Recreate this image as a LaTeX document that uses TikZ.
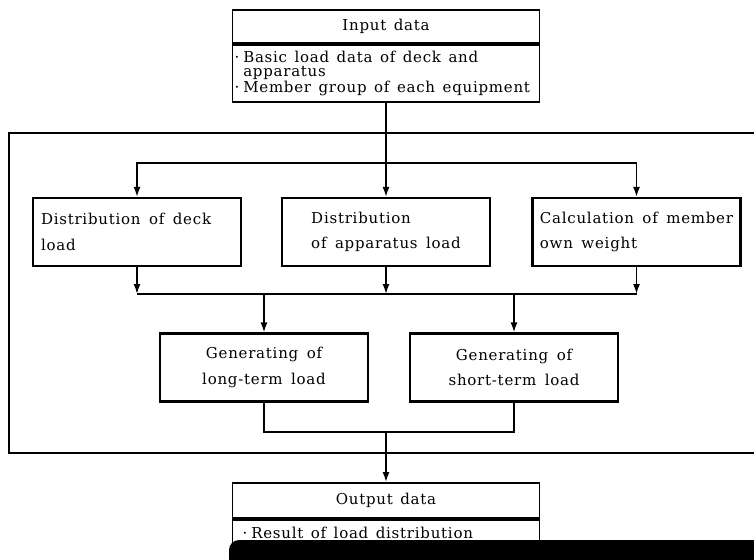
\documentclass[tikz,border=0pt]{standalone}
\usepackage{fontspec}
\setmainfont{DejaVu Serif}[LetterSpace=5]
\usetikzlibrary{arrows.meta,calc,positioning}
\newcommand\widespc{\spaceskip=8.5pt plus 2pt minus 1pt\relax}
\newcommand\iospc{\spaceskip=7.5pt plus 1pt minus 1pt\relax}
\newcommand\bul{·\hspace{4pt}}

\begin{document}
\begin{tikzpicture}[x=1pt,y=-1pt,line width=1.6pt,
  box/.style={draw,line width=2.2pt,minimum width=208pt,minimum height=68pt,align=left,font=\fontsize{15}{25.5}\selectfont,execute at begin node=\widespc},
  gen/.style={box,align=center},
  io/.style={draw,line width=1.8pt,minimum width=307pt,font=\fontsize{15}{14.5}\selectfont,execute at begin node=\iospc},
  arr/.style={-{Latex[length=10pt,width=7pt]}}]
\useasboundingbox (0,0) rectangle (754,559);
%the frame
\draw (754,133) -- (9,133) -- (9,453) -- (754,453);
%input data
\node[io,minimum height=33pt] (INHEAD) at (386,26.5) {Input data};
\node[io,minimum height=57pt,anchor=north,text width=303pt,inner xsep=2pt,align=left] (INBODY) at (INHEAD.south) {\bul Basic load data of deck and\\\phantom{\bul}apparatus\\\bul Member group of each equipment};
%distribution
\node[box,text width=192pt] (DECK) at (137,232) {Distribution of deck\\load};
\node[box] (APPAR) at (386,232) {Distribution\\of apparatus load};
\node[box] (MEMBER) at (636.5,232) {Calculation of member\\own weight};
%generating
\node[gen] (LONGT) at (264,367.5) {Generating of\\long-term load};
\node[gen] (SHORTT) at (514,367.5) {Generating of\\short-term load};
%output data
\node[io,minimum height=35pt] (OUTHEAD) at (386,500.5) {Output data};
\node[io,minimum height=27pt,anchor=north,text width=303pt,inner xsep=2pt,align=left] (OUTBODY) at (OUTHEAD.south) {\hspace{8pt}\bul Result of load distribution};
%connectors
\coordinate (BRANCH) at (386,163);
\coordinate (MERGE) at (386,294);
\coordinate (COLLECT) at (386,432);
\draw[arr] (INBODY.south) -- (APPAR.north);
\draw[arr] (BRANCH) -| (DECK.north);
\draw[arr] (BRANCH) -| (MEMBER.north);
\draw[arr] (DECK.south) -- (DECK.south |- MERGE);
\draw[arr] (APPAR.south) -- (MERGE);
\draw[arr] (MEMBER.south) -- (MEMBER.south |- MERGE);
\draw (DECK.south |- MERGE) -- (MEMBER.south |- MERGE);
\draw[arr] (LONGT.north |- MERGE) -- (LONGT.north);
\draw[arr] (SHORTT.north |- MERGE) -- (SHORTT.north);
\draw (LONGT.south) |- (COLLECT) -| (SHORTT.south);
\draw[arr] (COLLECT) -- (OUTHEAD.north);
%dark strip at the bottom edge
\fill[rounded corners=10pt] (229,575) -- (229,540) -- (770,540) -- (770,575) -- cycle;
\end{tikzpicture}
\end{document}
